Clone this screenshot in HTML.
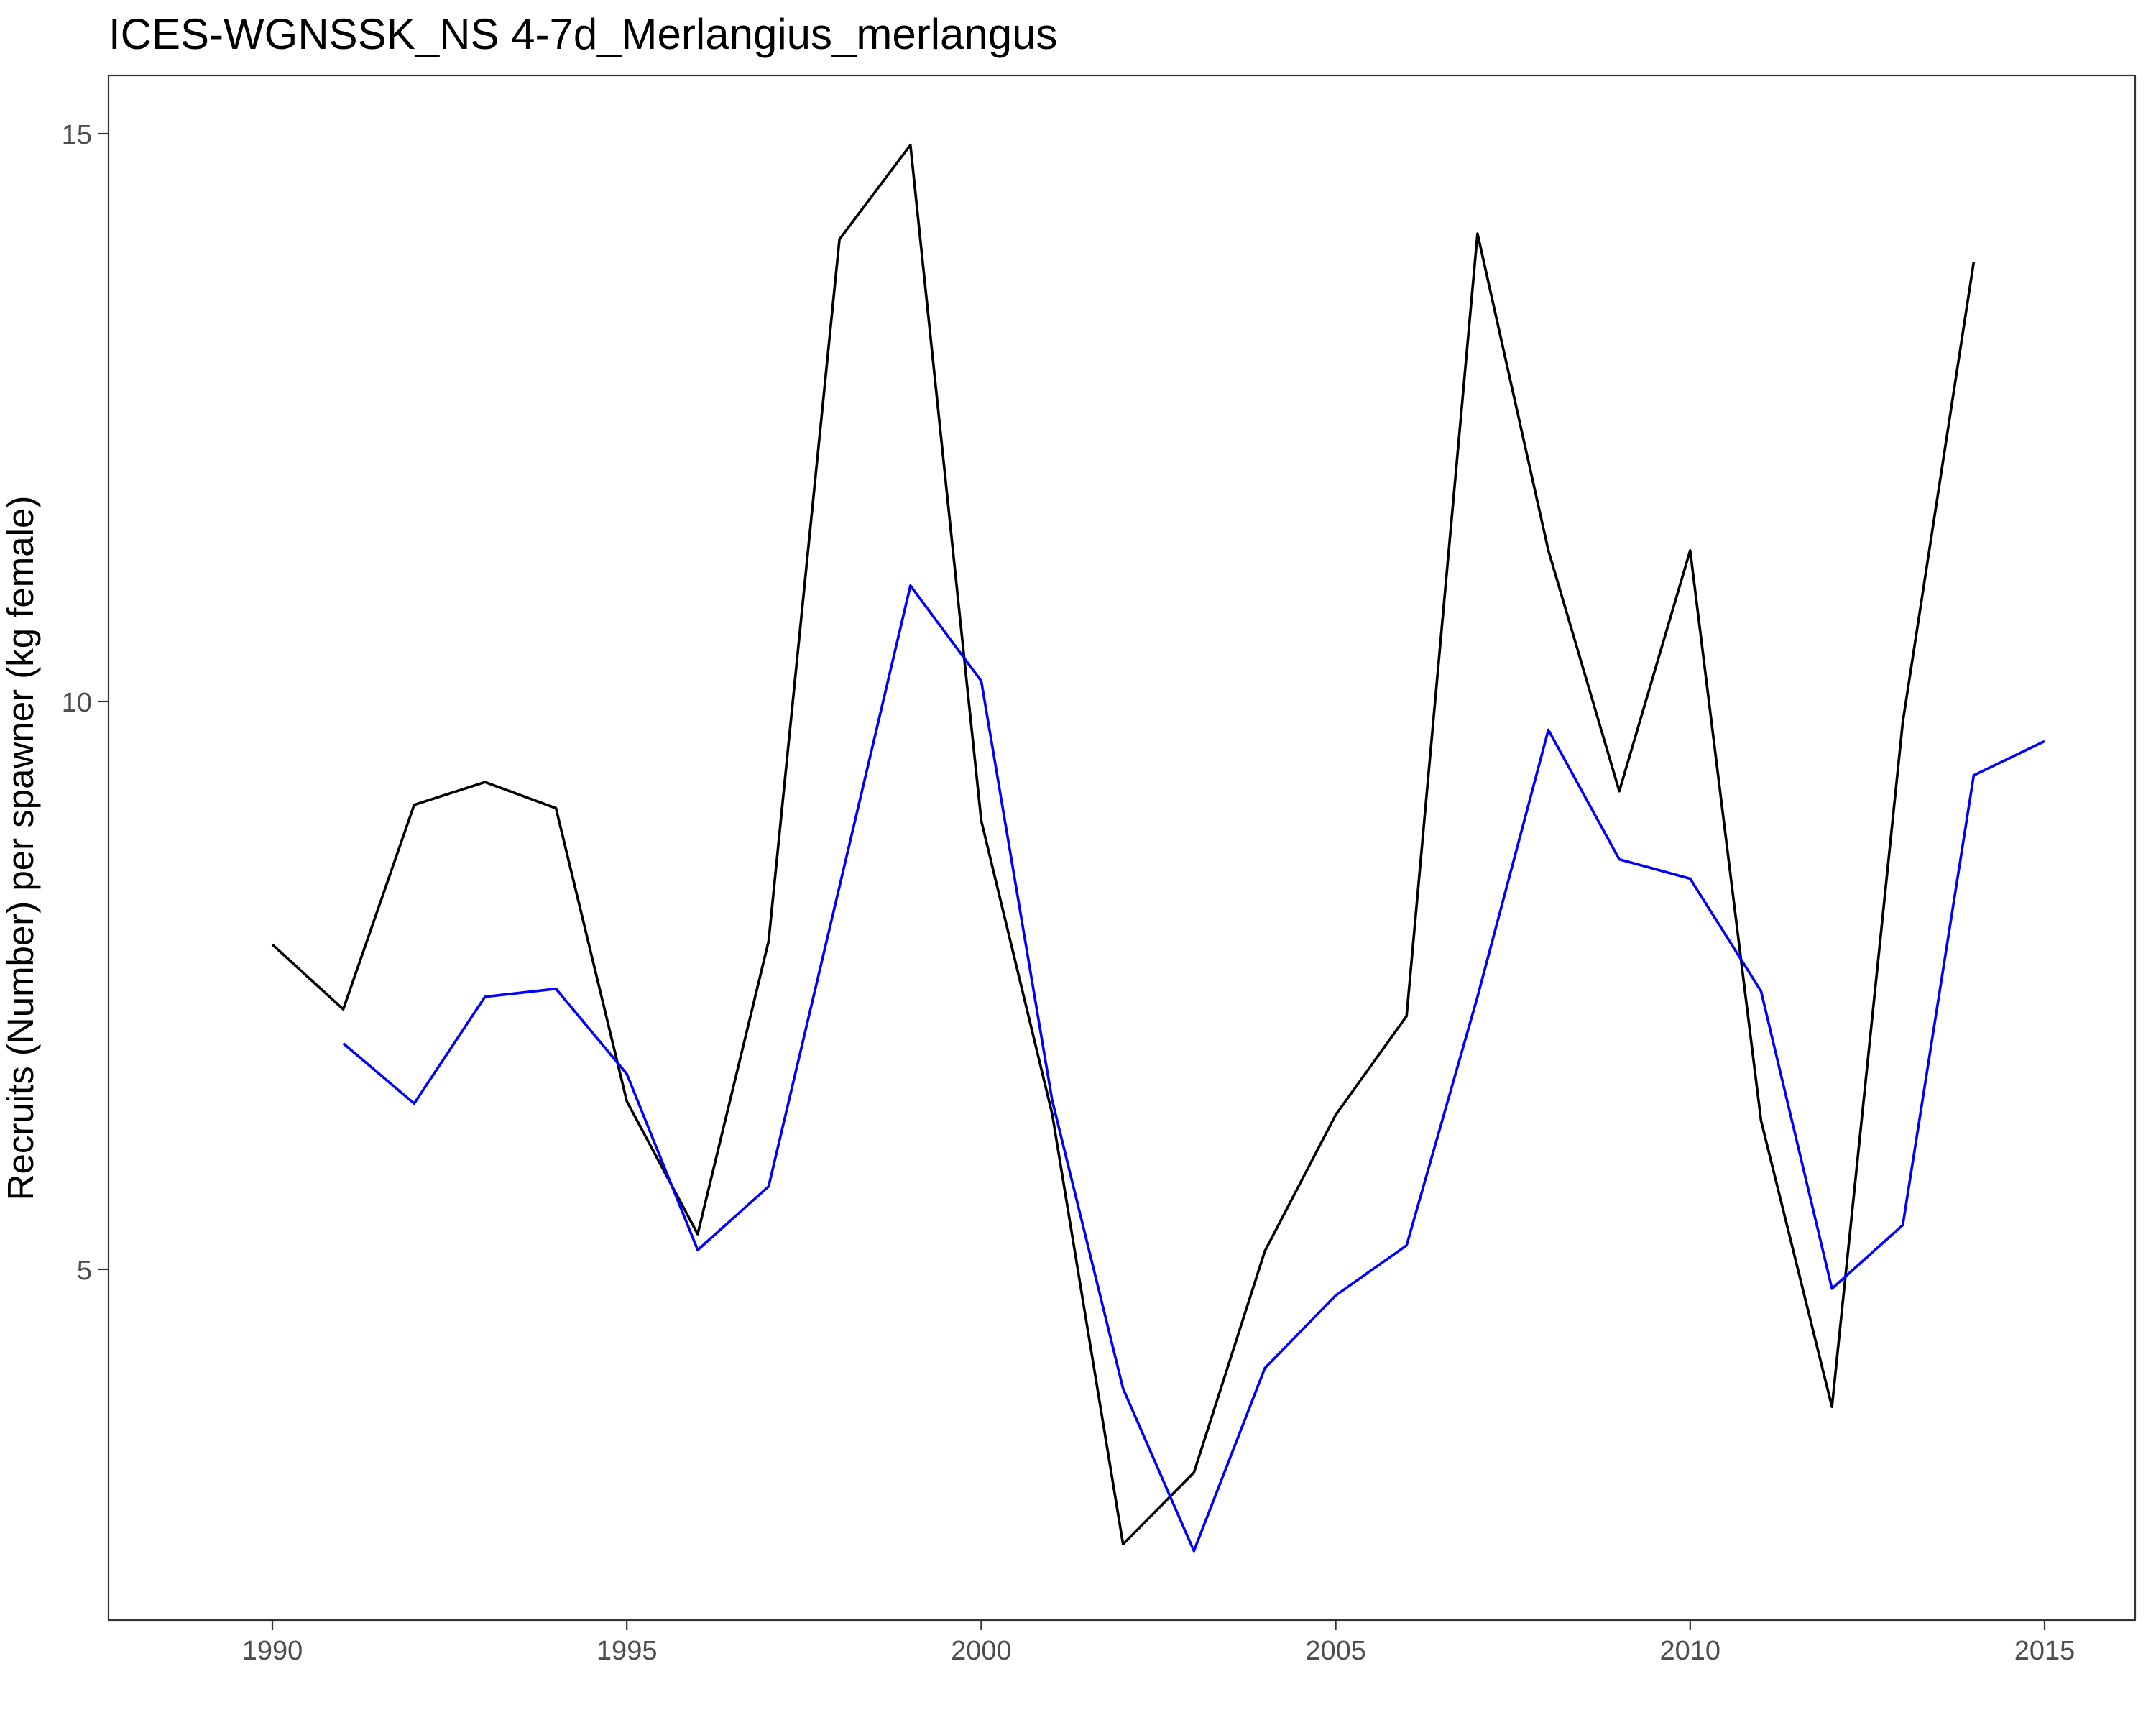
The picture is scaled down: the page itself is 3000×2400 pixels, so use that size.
<!DOCTYPE html>
<html><head><meta charset="utf-8"><style>html,body{margin:0;padding:0;background:#fff}svg{display:block}</style></head>
<body>
<svg id="chart" width="3000" height="2400" xmlns="http://www.w3.org/2000/svg" font-family="Liberation Sans, Arial, sans-serif">
<rect width="3000" height="2400" fill="#fff"/>
<text x="151" y="68" font-size="60" fill="#000">ICES-WGNSSK_NS 4-7d_Merlangius_merlangus</text>
<text transform="translate(46,1180) rotate(-90)" text-anchor="middle" font-size="51" fill="#000">Recruits (Number) per spawner (kg female)</text>
<g id="ticks"></g>
<g id="series"></g>
<rect x="151" y="105" width="2820" height="2149" fill="none" stroke="#333" stroke-width="2.2"/>
</svg>
<script>
const blackYears = [1990,1991,1992,1993,1994,1995,1996,1997,1998,1999,2000,2001,2002,2003,2004,2005,2006,2007,2008,2009,2010,2011,2012,2013,2014];
const blackValues = [7.86,7.29,9.09,9.29,9.06,6.48,5.31,7.89,14.07,14.9,8.95,6.37,2.58,3.21,5.16,6.36,7.23,14.12,11.33,9.21,11.33,6.31,3.79,9.82,13.87];
const blueYears = [1991,1992,1993,1994,1995,1996,1997,1998,1999,2000,2001,2002,2003,2004,2005,2006,2007,2008,2009,2010,2011,2012,2013,2014,2015];
const blueValues = [6.99,6.46,7.4,7.47,6.72,5.17,5.73,8.37,11.02,10.18,6.49,3.95,2.52,4.13,4.77,5.21,7.4,9.75,8.61,8.44,7.45,4.83,5.39,9.35,9.65];
const xTicks = [1990,1995,2000,2005,2010,2015];
const yTicks = [5,10,15];

const NS = 'http://www.w3.org/2000/svg';
function xs(v){ return 379 + (v-1990)*98.64; }
function ys(v){ return 976 - (v-10)*158; }
const tg = document.getElementById('ticks');
const sg = document.getElementById('series');
function mk(tag, attrs){ const e=document.createElementNS(NS,tag); for(const k in attrs) e.setAttribute(k,attrs[k]); return e; }

xTicks.forEach(t=>{
  const l = mk('line',{x1:xs(t),x2:xs(t),y1:2254,y2:2268,stroke:'#333','stroke-width':2.2});
  
  
  tg.appendChild(l);
  const tx = mk('text',{x:xs(t),y:2309,'text-anchor':'middle','font-size':38,fill:'#4d4d4d'});
  
  
  tx.textContent = t;
  tg.appendChild(tx);
});
yTicks.forEach(t=>{
  const l = mk('line',{x1:137,x2:151,y1:ys(t),y2:ys(t),stroke:'#333','stroke-width':2.2});
  
  
  tg.appendChild(l);
  const tx = mk('text',{x:128,y:ys(t)+14,'text-anchor':'end','font-size':38,fill:'#4d4d4d'});
  
  
  tx.textContent = t;
  tg.appendChild(tx);
});
function line(years, vals, color, name){
  const pts = years.map((y,i)=>xs(y).toFixed(1)+','+ys(vals[i]).toFixed(1)).join(' ');
  const p = mk('polyline',{points:pts,fill:'none',stroke:color,'stroke-width':3.6,'stroke-linejoin':'round'});
  
  
  sg.appendChild(p);
}
line(blackYears, blackValues, '#000', 'black-series-line');
line(blueYears, blueValues, '#0000ff', 'blue-series-line');
</script>
</body></html>
